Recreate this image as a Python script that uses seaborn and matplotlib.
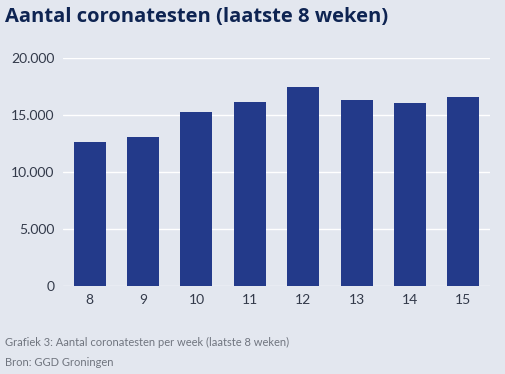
import pandas as pd
import matplotlib.pyplot as plt
import seaborn as sns

# weekly test counts
weeks = ['8', '9', '10', '11', '12', '13', '14', '15']
tests = [12630, 13100, 15240, 16110, 17460, 16340, 16030, 16580]
yticks = [0, 5000, 10000, 15000, 20000]
ylabels = ['0', '5.000', '10.000', '15.000', '20.000']

bg = '#E3E7EF'
bar_color = '#233A8A'

sns.set_theme(style='white')
plt.rcParams['font.family'] = ['Lato', 'DejaVu Sans']

data = pd.DataFrame({'week': weeks, 'tests': tests})

fig = plt.figure(figsize=(5.05, 3.74), dpi=100, facecolor=bg)
ax = fig.add_axes([63 / 505, 1 - 286 / 374, 427 / 505, 228 / 374])
ax.set_facecolor(bg)

sns.barplot(data=data, x='week', y='tests', color=bar_color, width=0.6,
            saturation=1, linewidth=0, ax=ax, zorder=3)

ax.set_xlim(-0.5, 7.5)
ax.set_ylim(0, 20000)
ax.set_yticks(yticks)
ax.set_yticklabels(ylabels)
ax.grid(axis='y', color='white', linewidth=1, zorder=0)
ax.set_axisbelow(True)
for s in ax.spines.values():
    s.set_visible(False)
ax.tick_params(axis='both', length=0, labelsize=10, colors='#333a4a', pad=6)
ax.set_xlabel('')
ax.set_ylabel('')

fig.text(5 / 505, 1 - 17 / 374, 'Aantal coronatesten (laatste 8 weken)',
         fontsize=14.5, fontweight='bold', color='#0E2452', va='center',
         family=['Open Sans', 'DejaVu Sans'])
fig.text(5 / 505, 1 - 342 / 374, 'Grafiek 3: Aantal coronatesten per week (laatste 8 weken)',
         fontsize=8, color='#70757f', va='center')
fig.text(5 / 505, 1 - 363 / 374, 'Bron: GGD Groningen',
         fontsize=8, color='#70757f', va='center')

fig.savefig('out.png', dpi=100, facecolor=bg)
